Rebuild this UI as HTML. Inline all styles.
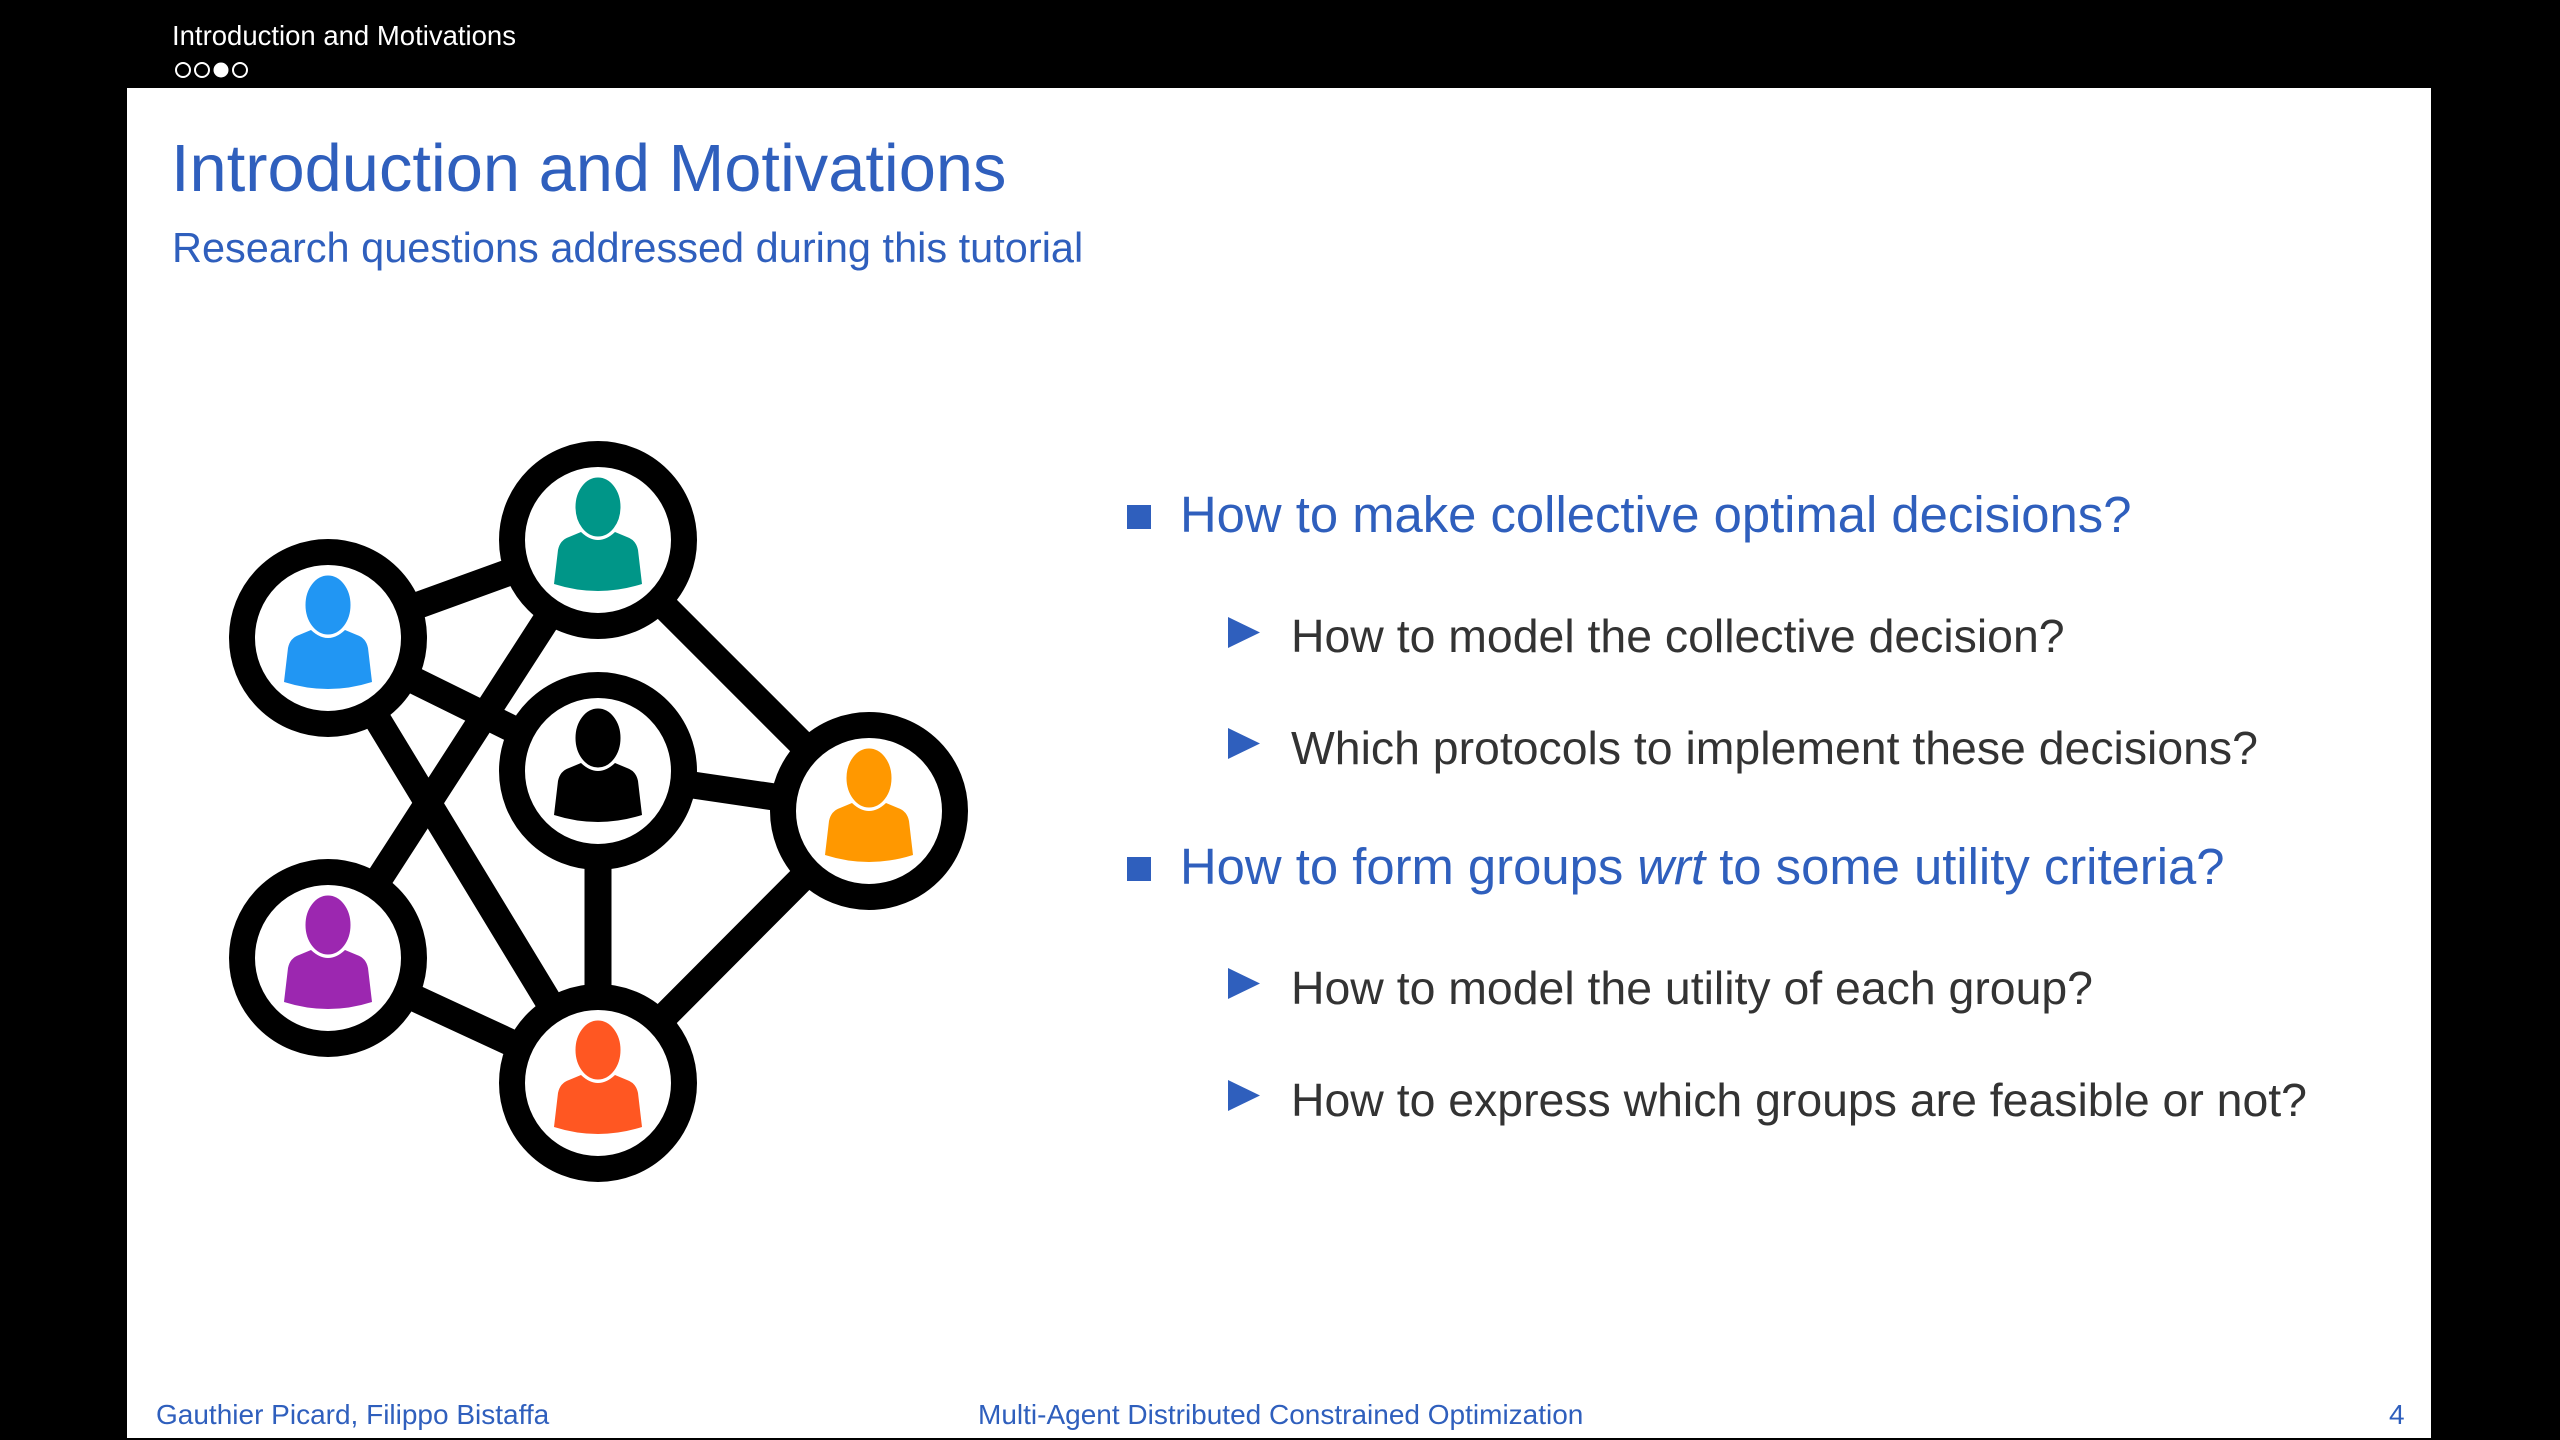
<!DOCTYPE html>
<html><head><meta charset="utf-8"><style>
html,body{margin:0;padding:0;}
body{width:2560px;height:1440px;background:#000;position:relative;overflow:hidden;font-family:"Liberation Sans",sans-serif;}
.abs{position:absolute;white-space:nowrap;}
#slide{position:absolute;left:127px;top:88px;width:2304px;height:1350px;background:#fff;}
.blue{color:#2f5fbd;}
.sub{color:#333;font-size:46.4px;}
.main{color:#2f5fbd;font-size:50.8px;}
</style></head><body>
<div class="abs" style="left:172px;top:20px;font-size:27.5px;color:#fff;">Introduction and Motivations</div>
<svg class="abs" style="left:172px;top:60px" width="90" height="22">
<circle cx="11" cy="10" r="7" fill="none" stroke="#fff" stroke-width="2"/>
<circle cx="30" cy="10" r="7" fill="none" stroke="#fff" stroke-width="2"/>
<circle cx="49" cy="10" r="7.5" fill="#fff"/>
<circle cx="68" cy="10" r="7" fill="none" stroke="#fff" stroke-width="2"/>
</svg>
<div id="slide"></div>
<div class="abs blue" style="left:171px;top:131px;font-size:66.8px;">Introduction and Motivations</div>
<div class="abs blue" style="left:172px;top:224px;font-size:41.5px;">Research questions addressed during this tutorial</div>

<svg class="abs" style="left:0;top:0" width="1100" height="1300">
<g stroke="#000" stroke-width="27" stroke-linecap="round">
<line x1="328" y1="638" x2="598" y2="540"/>
<line x1="328" y1="638" x2="598" y2="771"/>
<line x1="328" y1="638" x2="598" y2="1083"/>
<line x1="598" y1="540" x2="328" y2="958"/>
<line x1="598" y1="540" x2="869" y2="811"/>
<line x1="598" y1="771" x2="869" y2="811"/>
<line x1="598" y1="771" x2="598" y2="1083"/>
<line x1="328" y1="958" x2="598" y2="1083"/>
<line x1="869" y1="811" x2="598" y2="1083"/>
</g>
<defs>
<g id="person">
<path d="M -44 44 L -40 10 Q -38 0 -29 -3 L -17 -8 Q 0 8 17 -8 L 29 -3 Q 38 0 40 10 L 44 44 Q 0 58 -44 44 Z"/>
<ellipse cx="0" cy="-33" rx="24" ry="31" stroke="#fff" stroke-width="3"/>
</g>
</defs>
<g transform="translate(328,638)"><circle r="86" fill="#fff" stroke="#000" stroke-width="26"/><use href="#person" fill="#2196f3"/></g>
<g transform="translate(598,540)"><circle r="86" fill="#fff" stroke="#000" stroke-width="26"/><use href="#person" fill="#009688"/></g>
<g transform="translate(598,771)"><circle r="86" fill="#fff" stroke="#000" stroke-width="26"/><use href="#person" fill="#000"/></g>
<g transform="translate(869,811)"><circle r="86" fill="#fff" stroke="#000" stroke-width="26"/><use href="#person" fill="#ff9800"/></g>
<g transform="translate(328,958)"><circle r="86" fill="#fff" stroke="#000" stroke-width="26"/><use href="#person" fill="#9c27b0"/></g>
<g transform="translate(598,1083)"><circle r="86" fill="#fff" stroke="#000" stroke-width="26"/><use href="#person" fill="#ff5722"/></g>
</svg>

<div class="abs" style="left:1127px;top:505px;width:24px;height:24px;background:#2f5fbd"></div>
<div class="abs main" style="left:1180px;top:485px;">How to make collective optimal decisions?</div>
<svg class="abs" style="left:1228px;top:617px" width="32" height="31"><polygon points="0,0 32,15.5 0,31" fill="#2f5fbd"/></svg>
<div class="abs sub" style="left:1291px;top:609px;">How to model the collective decision?</div>
<svg class="abs" style="left:1228px;top:728px" width="32" height="31"><polygon points="0,0 32,15.5 0,31" fill="#2f5fbd"/></svg>
<div class="abs sub" style="left:1291px;top:721px;">Which protocols to implement these decisions?</div>
<div class="abs" style="left:1127px;top:857px;width:24px;height:24px;background:#2f5fbd"></div>
<div class="abs main" style="left:1180px;top:837px;">How to form groups <i>wrt</i> to some utility criteria?</div>
<svg class="abs" style="left:1228px;top:968px" width="32" height="31"><polygon points="0,0 32,15.5 0,31" fill="#2f5fbd"/></svg>
<div class="abs sub" style="left:1291px;top:961px;">How to model the utility of each group?</div>
<svg class="abs" style="left:1228px;top:1080px" width="32" height="31"><polygon points="0,0 32,15.5 0,31" fill="#2f5fbd"/></svg>
<div class="abs sub" style="left:1291px;top:1073px;">How to express which groups are feasible or not?</div>

<div class="abs blue" style="left:156px;top:1399px;font-size:28px;">Gauthier Picard, Filippo Bistaffa</div>
<div class="abs blue" style="left:978px;top:1399px;font-size:28px;">Multi-Agent Distributed Constrained Optimization</div>
<div class="abs blue" style="left:2389px;top:1399px;font-size:28px;">4</div>
</body></html>
